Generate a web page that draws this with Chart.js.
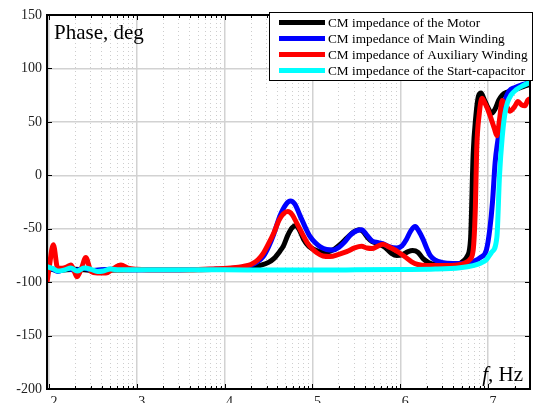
<!DOCTYPE html>
<html><head><meta charset="utf-8">
<script src="https://cdn.jsdelivr.net/npm/chart.js@4.4.0/dist/chart.umd.min.js"></script>
<style>html,body{margin:0;padding:0;background:#fff;overflow:hidden}#wrap{width:534px;height:403px}</style>
</head><body><div id="wrap"><canvas id="c" width="534" height="403"></canvas></div>
<script>
// x values are log10(f / Hz)
const xMin = 1.978, xMax = 7.477;
const xTickValues = [2, 3, 4, 5, 6, 7];
const yTickValues = [-200, -150, -100, -50, 0, 50, 100, 150];
const seriesLabels = [
  'CM impedance of the Motor',
  'CM impedance of Main Winding',
  'CM impedance of Auxiliary Winding',
  'CM impedance of the Start-capacitor'
];
const seriesColors = ['#000000', '#0000ff', '#ff0000', '#00ffff'];

const motorF = [1.978,2.1,2.3,2.5,3.0,3.5,4.0,4.2,4.3,4.4,4.5,4.56,4.63,4.67,4.72,4.77,4.81,4.85,4.9,4.96,5.02,5.1,5.18,5.25,5.32,5.4,5.47,5.53,5.58,5.63,5.68,5.75,5.82,5.9,5.96,6.03,6.09,6.14,6.2,6.26,6.32,6.4,6.55,6.65,6.72,6.76,6.8,6.83,6.86,6.89,6.92,6.95,7.0,7.04,7.08,7.12,7.16,7.22,7.3,7.4,7.477];
const motorPhase = [-87,-89,-88,-89,-88.5,-88.5,-88,-87.5,-86.5,-84.5,-81.5,-78,-71,-66,-56,-49,-47,-51,-60,-66.5,-69.5,-71.5,-71.5,-69,-64.5,-58,-53,-51,-53,-58.5,-62,-64,-67,-73,-75,-74,-71.5,-70.5,-72,-78,-81.5,-83.5,-84,-83.5,-80,-76,-60,20,55,74,77,72,63,58,62,70,75,78,80,83,85];

const mainF = [1.978,2.05,2.1,2.2,2.3,2.4,2.5,2.7,3.0,3.5,3.9,4.1,4.2,4.3,4.37,4.44,4.5,4.56,4.63,4.7,4.75,4.8,4.86,4.92,4.97,5.03,5.09,5.16,5.24,5.3,5.36,5.43,5.5,5.56,5.62,5.68,5.75,5.8,5.88,5.96,6.02,6.07,6.12,6.17,6.21,6.26,6.3,6.34,6.4,6.47,6.6,6.75,6.85,6.91,6.98,7.02,7.05,7.08,7.11,7.14,7.17,7.2,7.24,7.3,7.4,7.477];
const mainPhase = [-86,-88,-90,-87,-89,-87,-89,-88,-88.5,-88.3,-88,-87,-86,-84,-81,-76,-67,-55,-38,-27,-24,-27,-38,-49,-57,-63,-67,-69.5,-70,-67.5,-63,-56,-52,-51,-56,-61.5,-63,-64,-67,-68,-66,-60,-52,-48,-52,-60,-68,-75,-79.5,-81.5,-82.5,-82,-80,-77,-70,-50,-25,12,32,47,62,72,79,82,85,87];

const auxF = [1.978,2.0,2.05,2.1,2.15,2.2,2.25,2.28,2.32,2.37,2.42,2.48,2.55,2.65,2.72,2.82,2.9,3.0,3.3,3.6,3.9,4.1,4.2,4.3,4.38,4.44,4.5,4.56,4.62,4.67,4.72,4.77,4.82,4.88,4.94,5.0,5.05,5.12,5.2,5.3,5.39,5.48,5.56,5.62,5.68,5.74,5.8,5.87,5.93,5.98,6.05,6.13,6.2,6.3,6.5,6.65,6.75,6.79,6.83,6.855,6.87,6.9,6.93,6.96,6.99,7.03,7.07,7.1,7.13,7.16,7.2,7.25,7.3,7.34,7.38,7.42,7.45,7.477];
const auxPhase = [-100,-88,-65,-87,-87,-86,-84,-88,-95,-87,-77,-90,-91.5,-91.5,-88,-84,-87,-88,-88.5,-88.5,-87.5,-86.5,-85.5,-83.5,-79,-73,-64,-54,-42,-36,-34,-37,-44.5,-54,-63,-69,-72.5,-75.5,-76,-74,-71.5,-68,-66.5,-68,-68.5,-66.5,-64.5,-67,-69.5,-72,-76,-81,-83.5,-84.5,-84.5,-84,-81.5,-79,-70,-30,24,58,72,68,63,54,44,37,52,70,66,60,64,69,66,65,70,72];

const capF = [1.978,2.05,2.1,2.18,2.25,2.32,2.4,2.48,2.55,2.62,2.7,2.8,3.0,3.5,4.0,4.5,5.0,5.5,6.0,6.4,6.68,6.83,6.92,6.98,7.04,7.1,7.13,7.16,7.19,7.22,7.26,7.32,7.4,7.477];
const capPhase = [-85.5,-87.5,-89.6,-88.5,-86.8,-89.6,-86.8,-88,-90,-89.5,-87.7,-88.5,-88.5,-88.5,-88.5,-88.7,-88.7,-88.5,-88.2,-87.8,-86.5,-84.5,-82,-79,-72,-58,0,35,57,68,75,80,84,87];

const seriesF = [motorF, mainF, auxF, capF];
const seriesPhase = [motorPhase, mainPhase, auxPhase, capPhase];

const minorValues = [];
for (let d = 1; d <= 7; d++) for (let k = 2; k <= 9; k++) {
  const v = d + Math.log10(k);
  if (v > xMin && v < xMax) minorValues.push(v);
}

const serif = '"Liberation Serif", "Times New Roman", serif';

const decor = {
  id: 'decor',
  afterDraw(chart) {
    const ctx = chart.ctx;
    const {left, right, top, bottom} = chart.chartArea;
    const xs = chart.scales.x, ys = chart.scales.y;
    ctx.save();
    ctx.strokeStyle = '#000';
    ctx.lineWidth = 1;
    ctx.beginPath();
    xTickValues.forEach(v => {
      const p = Math.round(xs.getPixelForValue(v)) + 0.5;
      ctx.moveTo(p, bottom); ctx.lineTo(p, bottom - 5);
      ctx.moveTo(p, top); ctx.lineTo(p, top + 5);
    });
    minorValues.forEach(v => {
      const p = Math.round(xs.getPixelForValue(v)) + 0.5;
      ctx.moveTo(p, bottom); ctx.lineTo(p, bottom - 3);
      ctx.moveTo(p, top); ctx.lineTo(p, top + 3);
    });
    yTickValues.forEach(v => {
      const p = Math.round(ys.getPixelForValue(v)) + 0.5;
      ctx.moveTo(left, p); ctx.lineTo(left + 5, p);
      ctx.moveTo(right, p); ctx.lineTo(right - 5, p);
    });
    ctx.stroke();
    ctx.lineWidth = 2;
    ctx.strokeRect(left, top, right - left, bottom - top);

    // axis titles
    ctx.fillStyle = '#000';
    ctx.textBaseline = 'alphabetic';
    ctx.textAlign = 'left';
    ctx.font = '21px ' + serif;
    ctx.fillText('Phase, deg', left + 7, top + 24);
    const rest = ', Hz';
    const wRest = ctx.measureText(rest).width;
    ctx.font = 'italic 21px ' + serif;
    const wF = ctx.measureText('f').width;
    const xEnd = right - 7, yBase = bottom - 8;
    ctx.fillText('f', xEnd - wRest - wF, yBase);
    ctx.font = '21px ' + serif;
    ctx.fillText(rest, xEnd - wRest, yBase);

    // legend
    const bx = right - 261, by = top - 3, bw = 264, bh = 69;
    ctx.fillStyle = '#fff';
    ctx.fillRect(bx, by, bw, bh);
    ctx.lineWidth = 1;
    ctx.strokeStyle = '#000';
    ctx.strokeRect(bx + 0.5, by + 0.5, bw - 1, bh - 1);
    ctx.font = '13.3px ' + serif;
    chart.data.datasets.forEach((ds, i) => {
      const ly = by + 10.5 + i * 16;
      ctx.strokeStyle = ds.borderColor;
      ctx.lineWidth = 5;
      ctx.beginPath();
      ctx.moveTo(bx + 10, ly); ctx.lineTo(bx + 56, ly);
      ctx.stroke();
      ctx.fillStyle = '#000';
      ctx.fillText(ds.label, bx + 59, ly + 4.5);
    });
    ctx.restore();
  }
};

new Chart(document.getElementById('c'), {
  type: 'line',
  data: {
    datasets: seriesLabels.map((lab, i) => ({
      label: lab,
      data: seriesF[i].map((f, j) => ({x: f, y: seriesPhase[i][j]})),
      borderColor: seriesColors[i],
      backgroundColor: seriesColors[i],
      borderWidth: 5,
      pointRadius: 0,
      fill: false,
      cubicInterpolationMode: 'monotone',
      borderJoinStyle: 'round',
      order: 4 - i
    }))
  },
  options: {
    responsive: false,
    animation: false,
    devicePixelRatio: 1,
    layout: {padding: {top: 15, right: 4, left: 0, bottom: 0}},
    plugins: {legend: {display: false}, tooltip: {enabled: false}},
    scales: {
      x: {
        type: 'linear', position: 'bottom', min: xMin, max: xMax,
        afterBuildTicks: s => { s.ticks = xTickValues.map(v => ({value: v})); },
        afterFit: s => { s.height = 14; },
        ticks: {font: {family: serif, size: 14}, color: '#222', padding: 5, labelOffset: 5,
                autoSkip: false, maxRotation: 0, callback: v => String(v)},
        grid: {color: '#d2d2d2', lineWidth: 1.5, drawTicks: false},
        border: {display: false}
      },
      xMinor: {
        type: 'linear', position: 'bottom', min: xMin, max: xMax,
        afterBuildTicks: s => { s.ticks = minorValues.map(v => ({value: v})); },
        afterFit: s => { s.height = 0; },
        ticks: {display: false, autoSkip: false},
        grid: {color: '#cdcdcd', lineWidth: 1, drawTicks: false},
        border: {display: false, dash: [1, 3]}
      },
      y: {
        type: 'linear', min: -200, max: 150,
        afterBuildTicks: s => { s.ticks = yTickValues.map(v => ({value: v})); },
        afterFit: s => { s.width = 47; },
        ticks: {font: {family: serif, size: 14}, color: '#222', padding: 5},
        grid: {color: '#d2d2d2', lineWidth: 1.5, drawTicks: false},
        border: {display: false}
      }
    }
  },
  plugins: [decor]
});
</script></body></html>
